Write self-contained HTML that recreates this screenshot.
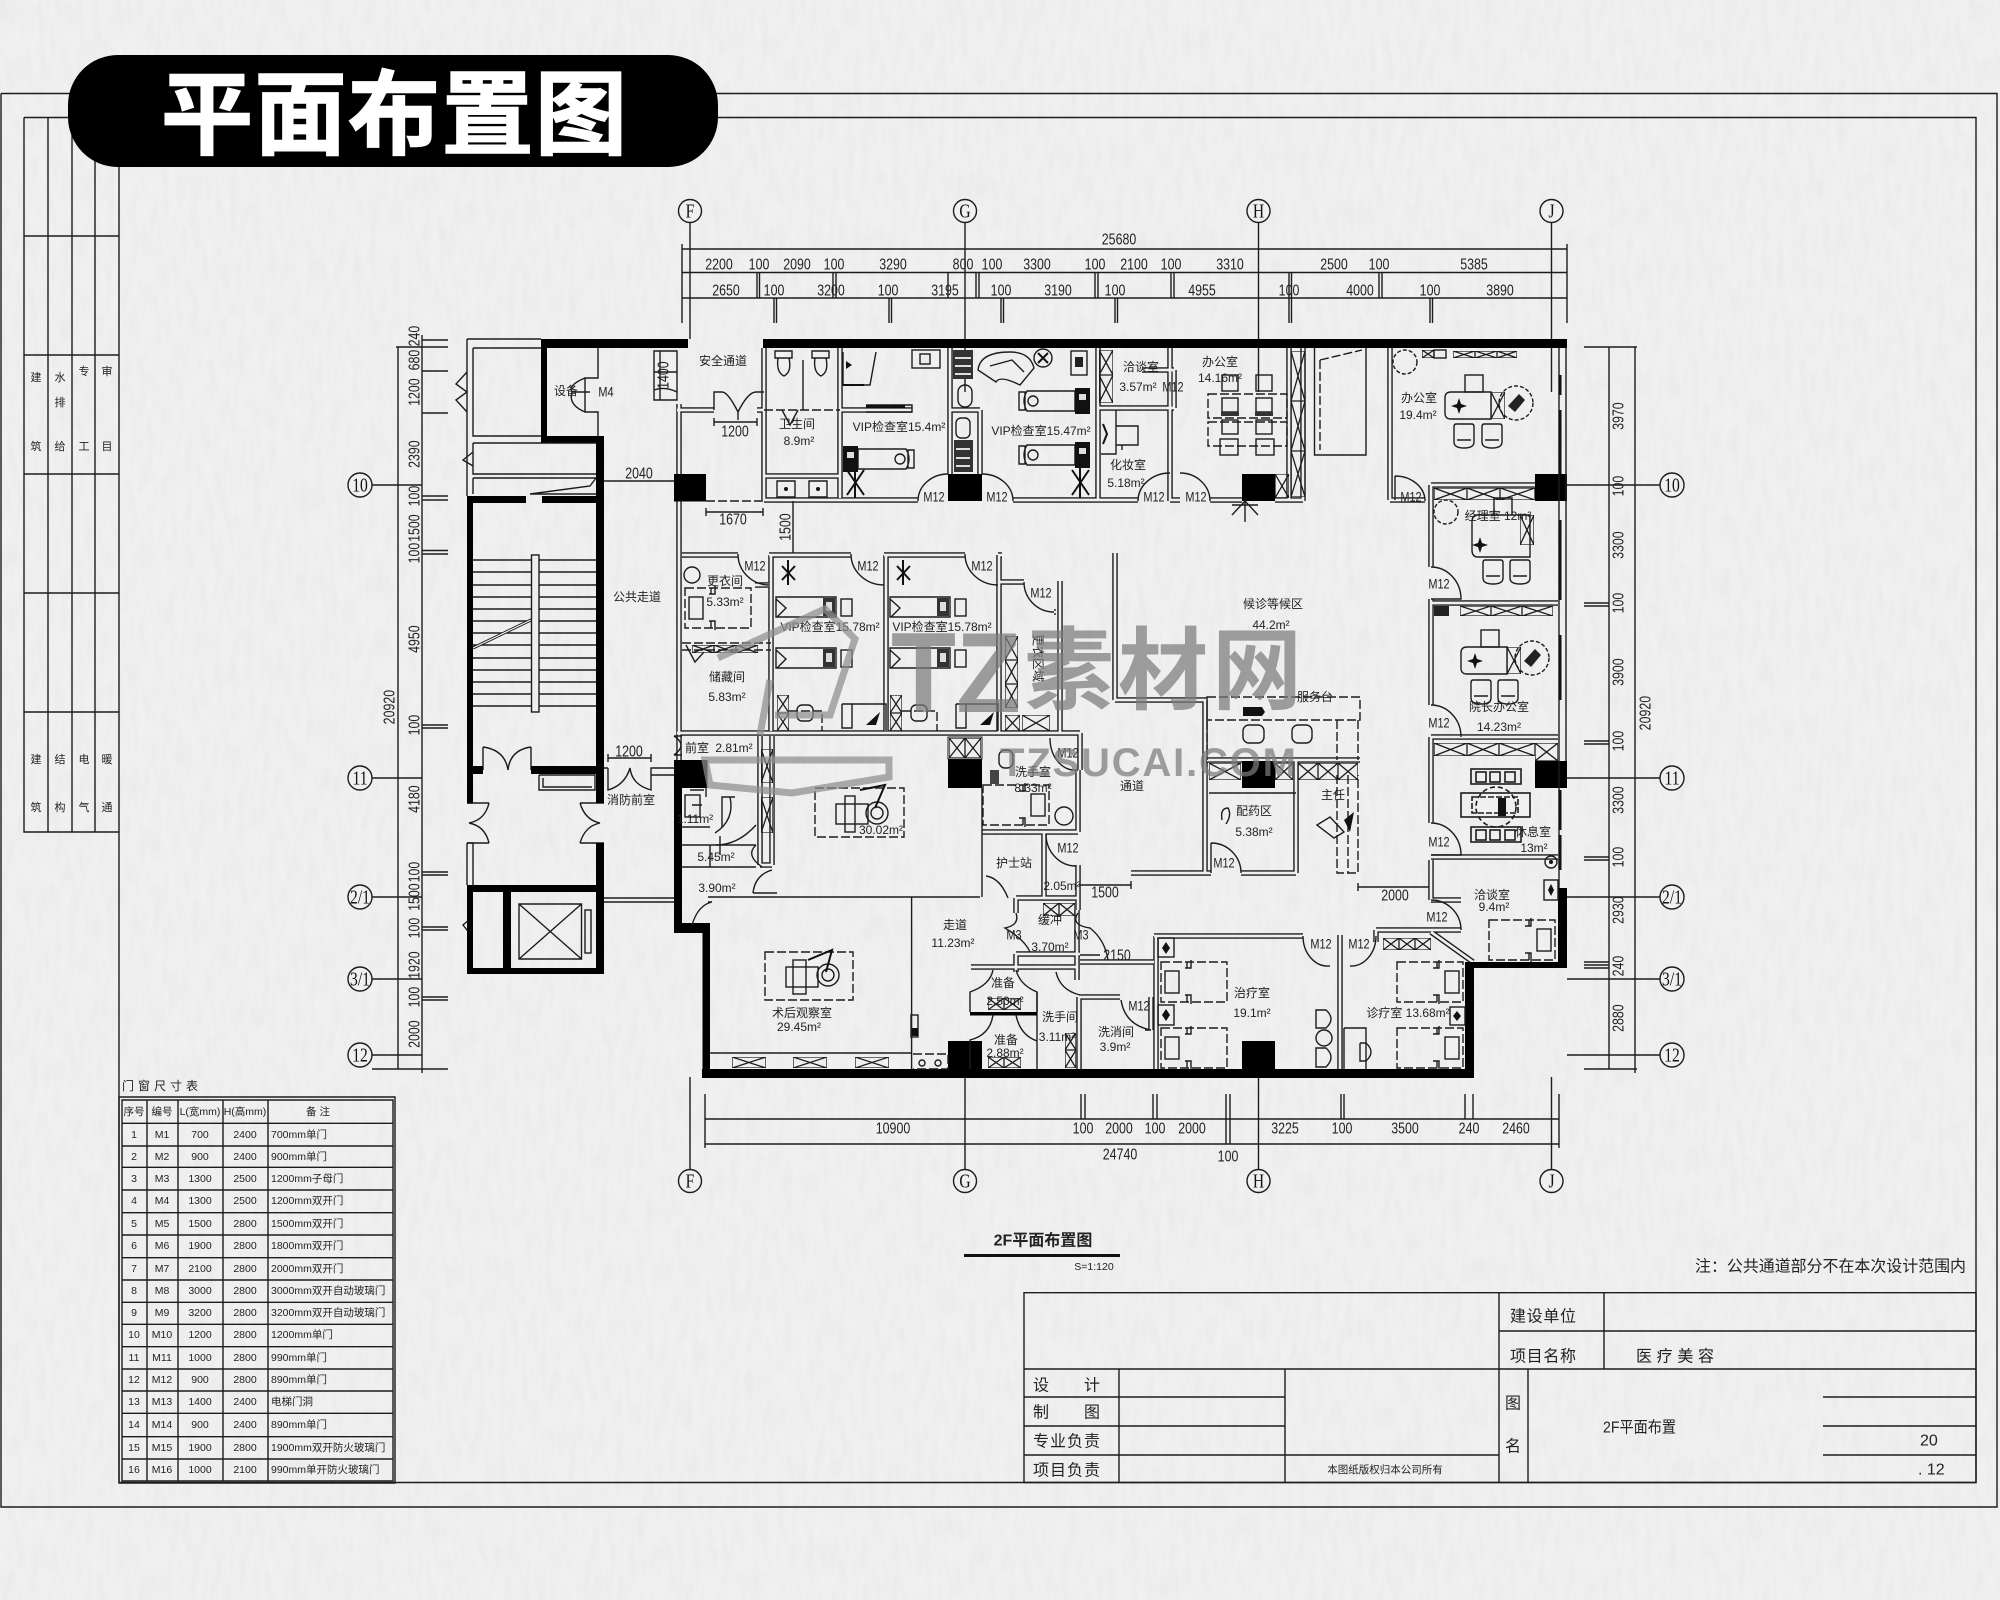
<!DOCTYPE html>
<html lang="zh"><head><meta charset="utf-8"><title>平面布置图</title>
<style>
html,body{margin:0;padding:0;background:#eee;width:2000px;height:1600px;overflow:hidden}
svg{display:block}
.n{font:15.5px "Liberation Sans",sans-serif;text-anchor:middle;dominant-baseline:central;fill:#222}
.n text{transform-box:fill-box;transform-origin:center;transform:scaleX(.8)}
.n text.v{transform:rotate(-90deg) scaleX(.8)}
.c{font:12px "Liberation Sans","Noto Sans CJK SC",sans-serif;text-anchor:middle;dominant-baseline:central;fill:#222}
.m{font:14px "Liberation Sans",sans-serif;text-anchor:middle;dominant-baseline:central;fill:#222}
.m text{transform-box:fill-box;transform-origin:center;transform:scaleX(.78)}
.ax{font:20px "Liberation Serif",serif;text-anchor:middle;dominant-baseline:central;fill:#111}
.ax text{transform-box:fill-box;transform-origin:center;transform:scaleX(.78)}
.tb{font:16px "Liberation Sans","Noto Sans CJK SC",sans-serif;dominant-baseline:central;fill:#222}
.td{font:10.5px "Liberation Sans","Noto Sans CJK SC",sans-serif;text-anchor:middle;dominant-baseline:central;fill:#222}
.l{fill:none;stroke:#1c1c1c;stroke-width:1.4}
.d{fill:none;stroke:#1c1c1c;stroke-width:1.4;stroke-dasharray:9 3}
</style></head><body>
<svg xmlns="http://www.w3.org/2000/svg" width="2000" height="1600" viewBox="0 0 2000 1600">
<defs>
<filter id="paper" x="0" y="0" width="100%" height="100%"><feTurbulence type="fractalNoise" baseFrequency="0.13 0.035" numOctaves="3" seed="5"/><feColorMatrix values="0 0 0 0 .6 0 0 0 0 .6 0 0 0 0 .6 .3 0 0 0 -.11"/></filter>
<symbol id="x" viewBox="0 0 10 10" preserveAspectRatio="none"><path vector-effect="non-scaling-stroke" fill="none" stroke="#1c1c1c" stroke-width="1.3" d="M0 0H10V10H0ZM0 0L10 10M10 0L0 10"/></symbol>
<g id="tr"><path class="l" d="M8 3H56V23H8Q2 13 8 3ZM0 4H6V22H0Z"/><rect x="56" y="0" width="15" height="26" fill="#111"/><rect x="60" y="6" width="7" height="6" fill="#ddd"/><circle cx="14" cy="13" r="5" class="l"/></g>
<g id="tl"><path class="l" d="M15 3H63Q69 13 63 23H15ZM65 4H71V22H65Z"/><rect x="0" y="0" width="15" height="26" fill="#111"/><rect x="4" y="6" width="7" height="6" fill="#ddd"/><circle cx="57" cy="13" r="5" class="l"/></g>
<g id="bd"><path class="l" d="M0 0H60V20H0ZM0 2L10 11L1 20"/><rect x="47" y="1" width="12" height="18" fill="#333"/><rect x="50" y="5" width="6" height="9" fill="#ddd"/><rect x="65" y="2" width="11" height="17" class="l"/></g>
<g id="ch"><path class="l" d="M2 0H18Q20 0 20 3V18Q20 24 10 24Q0 24 0 18V3Q0 0 2 0ZM3 16H17"/></g>
<g id="dk"><path class="l" d="M6 0H46V27H6Q0 27 0 21V6Q0 0 6 0Z"/><use href="#x" x="46" y="0" width="14" height="27"/><rect x="20" y="-17" width="18" height="17" class="l"/><path d="M14 6L16 12L22 14L16 16L14 22L12 16L6 14L12 12Z" fill="#111"/><circle cx="71" cy="11" r="17" class="l" stroke-dasharray="4 2"/><path d="M63 14L74 2L80 8L70 20Z" fill="#222"/></g>
<g id="db"><path class="d" d="M0 0H66V40H0Z"/><rect x="4" y="9" width="14" height="22" class="l"/><path class="l" d="M26 0V6M24 6H30V-2M26 40V33M24 33H30V42"/></g>
<g id="dbr"><path class="d" d="M0 0H66V40H0Z"/><rect x="48" y="9" width="14" height="22" class="l"/><path class="l" d="M40 0V6M36 6H42V-2M40 40V33M36 33H42V42"/></g>
<path id="dw" fill="none" d="
M679 404V474M679 501V760M677 733H1080M677 410H714M757 410H764M764 348V500M840 348V498M764 476H840M840 410H912M950 348V474M980 410V474M950 410H980
M764 500H918M1013 500H1138M1170 501V348M1170 500H1180M1210 500H1242M1098 348V500M1098 408H1174M1174 408V370M1174 370H1142
M1289 348V501M1303 348V501M1275 500H1303M1390 348V500M1425 500H1390
M1431 485V567M1431 599V705M1431 737V823M1431 860V900M1431 485H1535M1431 603H1558M1431 737H1558M1431 857H1558M1376 930H1431M1431 932L1473 962M1461 930H1431M1431 900H1461
M682 555H738M769 555H851M884 555H965M998 555H1002M771 555V731M886 555V731M999 555V733M999 582H1024M1060 581V733M1054 612H1056M769 585H755
M1115 553V700M1115 700H1207M1205 700V873M1131 873H1211M1241 873H1296M1296 760V873M1207 760H1360
M1154 936H1303M1156 936V1069M1340 935V1069M1376 930V942M1154 936H1156
M1079 997V1069M1079 997H1120M1151 997V1030M1080 962H1154
M760 736V865M772 736V865M760 865H772
M1080 733V770M1078 770V832M982 832H1078M1044 833V897M1078 865V910M1016 898H1078M1016 898V913M1016 954H1077M1016 954V972M1077 910V980M1077 954H1080
M971 967H1077"/>
</defs>
<rect width="2000" height="1600" fill="#f0f0f0"/>
<rect width="2000" height="1600" filter="url(#paper)"/>

<!-- drawing frames -->
<path class="l" d="M1 93.5H1997V1507H1V93.5"/>
<path class="l" d="M24 117.5H1976V1482.5H119M119 117.5V1482.5M24 117.5V832H119"/>
<path class="l" d="M48 117.5V832M72 117.5V832M95 117.5V832M24 236H119M24 355H119M24 474H119M24 593H119M24 712H119"/>
<g class="td" style="font-size:11px">
<text x="36" y="378">建</text><text x="36" y="447">筑</text><text x="60" y="378">水</text><text x="60" y="403">排</text><text x="60" y="447">给</text><text x="84" y="372">专</text><text x="84" y="447">工</text><text x="107" y="372">审</text><text x="107" y="447">目</text>
<text x="36" y="760">建</text><text x="36" y="808">筑</text><text x="60" y="760">结</text><text x="60" y="808">构</text><text x="84" y="760">电</text><text x="84" y="808">气</text><text x="107" y="760">暖</text><text x="107" y="808">通</text>
</g>

<!-- dimensions top -->
<path class="l" d="M682 249H1567M682 272.5H1567M682 298H1567M682 244V323M1567 244V323"/>
<path class="l" d="M757 272V298M759.5 272V298M833 272V298M836 272V298M948 272V298M976 272V298M979 272V298M1095 272V298M1098 272V298M1171 272V298M1174 272V298M1379 272V298M1382 272V298"/>
<path class="l" d="M774 298V323M776.500 298V323M889 298V323M891.500 298V323M1001 298V323M1003.5 298V323M1115 298V323M1117.5 298V323M1289 272V323M1291.500 272V323M1430 298V323M1432.500 298V323"/>
<path class="l" d="M690 222V339M965 222V392M1258.5 222V392M1551.500 222V392"/>
<g class="n">
<text x="1119" y="239">25680</text>
<text x="719" y="264">2200</text><text x="759" y="264">100</text><text x="797" y="264">2090</text><text x="834" y="264">100</text><text x="893" y="264">3290</text><text x="963" y="264">800</text><text x="992" y="264">100</text><text x="1037" y="264">3300</text><text x="1095" y="264">100</text><text x="1134" y="264">2100</text><text x="1171" y="264">100</text><text x="1230" y="264">3310</text><text x="1334" y="264">2500</text><text x="1379" y="264">100</text><text x="1474" y="264">5385</text>
<text x="726" y="290">2650</text><text x="774" y="290">100</text><text x="831" y="290">3200</text><text x="888" y="290">100</text><text x="945" y="290">3195</text><text x="1001" y="290">100</text><text x="1058" y="290">3190</text><text x="1115" y="290">100</text><text x="1202" y="290">4955</text><text x="1289" y="290">100</text><text x="1360" y="290">4000</text><text x="1430" y="290">100</text><text x="1500" y="290">3890</text>
</g>

<!-- dimensions left -->
<path class="l" d="M398 347V1069M422 335V1073M372 1069H448M396 347H448M422 340H448M422 371H448M422 413H448M422 496H448M422 500H448M422 550.500H448M422 554H448M422 725H448M422 728H448M422 872H448M422 875H448M422 927H448M422 930H448M422 997H448M422 1000H448"/>
<path class="l" d="M372 485H422M372 778H422M372 897H422M372 979H422M372 1055H422"/>
<g class="n">
<text class="v" x="414" y="336">240</text><text class="v" x="414" y="360">680</text><text class="v" x="414" y="392">1200</text><text class="v" x="414" y="454">2390</text><text class="v" x="414" y="496">100</text><text class="v" x="414" y="528">1500</text><text class="v" x="414" y="553">100</text><text class="v" x="414" y="639">4950</text><text class="v" x="414" y="725">100</text><text class="v" x="414" y="799">4180</text><text class="v" x="414" y="872">100</text><text class="v" x="414" y="897">1500</text><text class="v" x="414" y="928">100</text><text class="v" x="414" y="965">1920</text><text class="v" x="414" y="997">100</text><text class="v" x="414" y="1034">2000</text>
<text class="v" x="389" y="707">20920</text>
</g>

<!-- dimensions right -->
<path class="l" d="M1609 347V1069M1635 347V1073M1584 347H1637M1584 1069H1637M1584 603H1609M1584 606H1609M1584 741H1609M1584 744H1609M1584 857H1609M1584 860H1609M1584 962H1609M1584 965H1609M1584 968H1609"/>
<path class="l" d="M1567 485H1660M1567 778H1660M1567 897H1660M1567 979H1660M1567 1055H1660"/>
<g class="n">
<text class="v" x="1618" y="416">3970</text><text class="v" x="1618" y="486">100</text><text class="v" x="1618" y="545">3300</text><text class="v" x="1618" y="603">100</text><text class="v" x="1618" y="672">3900</text><text class="v" x="1618" y="741">100</text><text class="v" x="1618" y="800">3300</text><text class="v" x="1618" y="857">100</text><text class="v" x="1618" y="910">2930</text><text class="v" x="1618" y="966">240</text><text class="v" x="1618" y="1018">2880</text>
<text class="v" x="1645" y="713">20920</text>
</g>

<!-- dimensions bottom -->
<path class="l" d="M705 1119H1559M705 1144H1559M705 1094V1148M1559 1094V1148"/>
<path class="l" d="M1081 1094V1119M1085 1094V1119M1153 1094V1119M1157 1094V1119M1226 1094V1144M1230 1094V1144M1341 1094V1119M1344 1094V1119M1465 1094V1119M1473 1094V1119"/>
<path class="l" d="M690 1077V1170M965 1078V1170M1258.5 1078V1170M1551.500 1077V1170"/>
<g class="n">
<text x="893" y="1128">10900</text><text x="1083" y="1128">100</text><text x="1119" y="1128">2000</text><text x="1155" y="1128">100</text><text x="1192" y="1128">2000</text><text x="1285" y="1128">3225</text><text x="1342" y="1128">100</text><text x="1405" y="1128">3500</text><text x="1469" y="1128">240</text><text x="1516" y="1128">2460</text>
<text x="1120" y="1154">24740</text><text x="1228" y="1156">100</text>
</g>

<!-- axis bubbles -->
<g fill="#f0f0f0" stroke="#1c1c1c" stroke-width="1.4">
<circle cx="690" cy="211" r="11.5"/><circle cx="965" cy="211" r="11.5"/><circle cx="1258.500" cy="211" r="11.5"/><circle cx="1551.500" cy="211" r="11.5"/>
<circle cx="690" cy="1181" r="11.5"/><circle cx="965" cy="1181" r="11.5"/><circle cx="1258.500" cy="1181" r="11.5"/><circle cx="1551.500" cy="1181" r="11.5"/>
<circle cx="360" cy="485" r="12"/><circle cx="360" cy="778" r="12"/><circle cx="360" cy="897" r="12"/><circle cx="360" cy="979" r="12"/><circle cx="360" cy="1055" r="12"/>
<circle cx="1672" cy="485" r="12"/><circle cx="1672" cy="778" r="12"/><circle cx="1672" cy="897" r="12"/><circle cx="1672" cy="979" r="12"/><circle cx="1672" cy="1055" r="12"/>
</g>
<g class="ax">
<text x="690" y="211">F</text><text x="965" y="211">G</text><text x="1258.500" y="211">H</text><text x="1551.500" y="211">J</text>
<text x="690" y="1181">F</text><text x="965" y="1181">G</text><text x="1258.500" y="1181">H</text><text x="1551.500" y="1181">J</text>
<text x="360" y="485">10</text><text x="360" y="778">11</text><text x="360" y="897">2/1</text><text x="360" y="979">3/1</text><text x="360" y="1055">12</text>
<text x="1672" y="485">10</text><text x="1672" y="778">11</text><text x="1672" y="897">2/1</text><text x="1672" y="979">3/1</text><text x="1672" y="1055">12</text>
</g>

<!-- thin structure around stair -->
<path class="l" d="M467 339H541M467 339V496M473 348H541M473 348V436H541M473 443H596M473 443V474H596M473 478H596M473 478V494M530 494H596M530 494L590 486L596 478"/>
<path class="l" d="M467 843V885M473 843V885M467 803H473M467 843H473"/>
<path d="M467 372L456 384L467 392L456 400L467 412M473 452L463 460L473 466" class="l"/>
<path class="l" d="M463 925L471 918V935Z"/>

<!-- stairs -->
<path class="l" d="M473 560H596M473 572H596M473 585H596M473 597H596M473 609H596M473 621H596M473 633H596M473 645H596M473 658H596M473 670H596M473 682H596M473 694H596M473 706H596"/>
<path d="M473 648L533 619" stroke="#1c1c1c" stroke-width="3" fill="none"/>
<path d="M473 648L533 619" stroke="#eee" stroke-width="1.2" fill="none"/>
<rect x="531.500" y="555" width="7.5" height="157" fill="#eee" stroke="#1c1c1c" stroke-width="1.4"/>
<path class="l" d="M483 747V770M531 747V770M483 747Q505 750 508 770M531 747Q510 750 508 770"/>
<path class="l" d="M489 803Q485 820 469 823Q485 826 489 843M467 843H489M467 803H489"/>
<path class="l" d="M580 803Q585 820 600 823Q585 826 580 843M580 843H604M580 803H604"/>
<path class="l" d="M539 775V790H595V775H539M543 778V787H592"/>
<path class="l" d="M608 768V790Q625 785 630 768Q632 785 651 790V768H674M651 775H674M604 768H608"/>
<path class="l" d="M608 758H651M608 754V762M651 754V762"/>
<path class="l" d="M604 898H674M604 902H674M604 481H674"/>
<!-- elevator -->
<path class="l" d="M519 904H581.500V959H519ZM519 904L581.500 959M581.500 904L519 959"/>
<rect x="585" y="910" width="6" height="43" class="l"/>

<!-- main thin (double) walls -->
<use href="#dw" stroke="#1c1c1c" stroke-width="5.5"/>
<use href="#dw" stroke="#efefef" stroke-width="2.7"/>
<path class="l" d="M708 897H980M911.600 897V1069M710 1053H912M982 788V897M1209 793H1296M1314.500 348V455H1366V348"/>
<path class="l" d="M1037 992V1069"/>
<path class="l" d="M682 787H707M682 827H710M722 827V797H735M682 845H756M682 867H756M710 845V867M720 836V855"/>
<path class="d" d="M706 501H764M764 410H840M682 643H771"/>

<!-- thick black walls -->
<g fill="#000">
<rect x="541" y="339" width="147" height="9"/>
<rect x="763" y="339" width="804" height="9"/>
<rect x="541" y="339" width="6" height="103"/>
<rect x="541" y="436" width="63" height="6.500"/>
<rect x="596" y="436" width="8" height="367"/>
<rect x="596" y="843" width="8" height="131"/>
<rect x="467" y="496" width="6" height="307"/>
<rect x="467" y="885" width="6" height="89"/>
<path d="M467 496H526V503H467ZM542 496H604V503H542Z"/>
<rect x="467" y="766" width="16" height="8"/>
<rect x="531" y="766" width="73" height="8"/>
<rect x="467" y="885" width="137" height="7"/>
<rect x="467" y="968" width="137" height="6"/>
<rect x="503" y="892" width="8" height="76"/>
<rect x="674" y="474" width="32" height="27.500"/>
<rect x="948" y="474" width="34" height="27"/>
<rect x="1242" y="474" width="33" height="27"/>
<rect x="1535" y="474" width="32" height="27"/>
<rect x="674" y="760" width="33.500" height="28"/>
<rect x="674" y="788" width="8" height="135"/>
<rect x="674" y="923" width="35" height="10"/>
<rect x="702.500" y="923" width="7.500" height="150"/>
<rect x="702" y="1069" width="772" height="9"/>
<rect x="1465" y="962" width="9" height="116"/>
<rect x="1465" y="962" width="102" height="6"/>
<rect x="1558" y="888" width="9" height="80"/>
<rect x="948" y="758" width="34" height="30"/>
<rect x="948" y="1041" width="34" height="28"/>
<rect x="1242" y="1041" width="33" height="28"/>
<rect x="1242" y="761" width="33" height="27"/>
<rect x="1535" y="761" width="32" height="27"/>
<rect x="970" y="1012" width="67" height="3.500"/>
</g>
<!-- window strip on the east side -->
<path class="l" d="M1559 348V888M1566 348V761"/>
<path stroke="#111" stroke-width="3" fill="none" d="M1560 375V395M1560 410V474M1560 520V600M1560 635V700M1560 790V830M1560 835V870"/>

<!-- north-west small items -->
<path class="l" d="M598 348V378H585V412H598V436M585 378Q568 385 572 392Q568 405 585 412M572 392L590 392M585 387V397"/>
<path class="l" d="M654 351H677V400H654ZM660 351V400M654 372H677M654 390Q665 386 677 392"/>
<path class="l" d="M714 410V392H722Q728 392 738 412Q748 392 756 392H764M738 412V420M714 422H757M714 418V426M757 418V426"/>
<path class="l" d="M706 512H763M706 508V516M763 508V516M793 501V553"/>
<!-- toilets/wash room -->
<path class="l" d="M775 351H792V358H775ZM778 358Q776 372 784 376Q792 372 789 358ZM812 351H829V358H812ZM815 358Q813 372 821 376Q829 372 826 358ZM803 360V410M782 410L790 425L798 410"/>
<path class="l" d="M777 481H795V497H777ZM809 481H827V497H809Z"/>
<circle cx="786" cy="489" r="2" fill="#111"/><circle cx="818" cy="489" r="2" fill="#111"/>
<path class="l" d="M843 352V385H870L876 352M843 385H860M866 405H912V412H866"/>
<path d="M843 384H864V386H843ZM846 361L852 365L846 369ZM866 405H905V408H866Z" fill="#111"/>
<rect x="912" y="350" width="28" height="18" class="l"/><rect x="920" y="354" width="10" height="10" class="l"/>
<rect x="953" y="350" width="20" height="29" fill="#333"/><path d="M955 358H971M955 366H971M955 374H971" stroke="#ddd" stroke-width="2"/>
<rect x="954" y="440" width="19" height="32" fill="#333"/><path d="M956 449H970M956 458H970M956 466H970" stroke="#ddd" stroke-width="2"/>
<rect x="958" y="385" width="14" height="22" rx="7" class="l"/><rect x="956" y="418" width="14" height="20" rx="5" class="l"/>
<path class="l" d="M978 370Q980 352 1010 352Q1030 352 1034 368L1020 385Q1000 375 996 382ZM990 366L1012 360L1024 372"/>
<circle cx="1043" cy="358" r="9" class="l"/><path d="M1038 353L1048 363M1048 353L1038 363" stroke="#111" stroke-width="2"/>
<rect x="1071" y="351" width="16" height="24" class="l"/><rect x="1075" y="357" width="8" height="10" fill="#222"/>
<use href="#tr" x="1019" y="388"/><use href="#tr" x="1019" y="442"/><use href="#tl" x="843" y="446"/>
<path d="M847 470L864 495M864 470L847 495M855 468V498" stroke="#111" stroke-width="2" fill="none"/>
<path d="M1072 470L1089 495M1089 470L1072 495M1080 468V498" stroke="#111" stroke-width="2" fill="none"/>
<use href="#x" x="1099" y="350" width="14" height="25"/><use href="#x" x="1099" y="375" width="14" height="28"/>
<path class="l" d="M1101 454H1116V410M1116 445V426H1138V445H1116M1122 445V450"/>
<path d="M1103 424L1107 434L1103 444" stroke="#111" fill="none" stroke-width="2"/>

<!-- doors -->
<path class="l" d="M918 501A30 27 0 0 1 948 474M982 474A31 27 0 0 1 1013 501M1138 501A32 28 0 0 1 1170 473M1180 473A30 28 0 0 1 1210 501M1395 476A30 25 0 0 1 1425 501M1395 476V500"/>
<path class="l" d="M1431 567A30 32 0 0 1 1461 599H1431M1431 705A30 32 0 0 1 1461 737M1431 823A30 32 0 0 1 1461 855H1431M1431 900A30 30 0 0 1 1461 930"/>
<path class="l" d="M738 554A31 31 0 0 0 769 585M851 554A33 31 0 0 0 884 585M965 554A33 31 0 0 0 998 585M1024 582A30 30 0 0 0 1054 612"/>
<path class="l" d="M1211 843A30 30 0 0 1 1241 873M1211 843V873M1303 936A25 30 0 0 0 1330 966M1376 936A25 30 0 0 1 1350 966"/>
<path class="l" d="M1050 738A25 32 0 0 0 1078 770M1046 834A30 32 0 0 0 1076 866"/>
<path class="l" d="M753 893Q755 875 772 870M777 893H753M692 925Q698 905 712 902H708"/>
<path class="l" d="M986 876Q1000 878 1008 898M1016 913Q1020 925 1005 928Q1025 940 1030 952M1078 913Q1070 925 1090 928Q1105 940 1108 960"/>
<path class="l" d="M716 845Q738 845 756 825M762 867Q745 855 756 845M706 787V797M730 797Q735 820 715 833"/>
<path class="l" d="M1056 972Q1060 990 1080 995M1121 1000Q1125 1025 1151 1030H1145"/>
<path class="l" d="M993 970Q990 985 970 992V1012M1016 970Q1020 985 1037 992V1012M993 1015Q990 1035 970 1040V1069M1016 1015Q1020 1035 1037 1041"/>
<path class="l" d="M674 736Q688 745 674 755M674 736H682M674 755H682"/>

<!-- middle rooms furniture -->
<circle cx="692" cy="575" r="8" class="l"/>
<use href="#db" x="685" y="588"/>
<use href="#bd" x="776" y="597"/><use href="#bd" x="776" y="648"/><use href="#bd" x="890" y="597"/><use href="#bd" x="890" y="648"/>
<path class="d" d="M682 650H771"/>
<path class="l" d="M686 645L695 662L704 652"/>
<use href="#x" x="692" y="645" width="22" height="8"/><use href="#x" x="714" y="645" width="22" height="8"/><use href="#x" x="736" y="645" width="22" height="8"/>
<use href="#x" x="777" y="695" width="12" height="18"/><use href="#x" x="777" y="713" width="12" height="18"/><use href="#x" x="890" y="695" width="12" height="18"/><use href="#x" x="890" y="713" width="12" height="18"/>
<rect x="797" y="705" width="16" height="16" rx="5" class="l"/><rect x="911" y="705" width="16" height="16" rx="5" class="l"/>
<path class="d" d="M789 711H822V731M902 711H937V731"/>
<path class="l" d="M842 704H886V731M842 704V728H852V704M956 704H998V731M956 704V728H966V704"/>
<path d="M866 725L880 712L876 725ZM980 725L994 712L990 725Z" fill="#111"/>
<path d="M782 566L795 580M795 566L782 580M788 560V585M897 566L910 580M910 566L897 580M903 560V585" stroke="#111" stroke-width="2" fill="none"/>
<use href="#x" x="1005" y="636" width="13" height="24"/><use href="#x" x="1005" y="660" width="13" height="24"/><use href="#x" x="1005" y="684" width="13" height="24"/>
<use href="#x" x="1005" y="715" width="15" height="16"/><use href="#x" x="1022" y="715" width="28" height="16"/>
<!-- treatment room strip -->
<use href="#x" x="761" y="749" width="12" height="34"/><use href="#x" x="761" y="797" width="12" height="36"/>
<rect x="948" y="737" width="34" height="22" fill="#eee" stroke="#1c1c1c"/>
<use href="#x" x="949" y="738" width="16" height="20"/><use href="#x" x="965" y="738" width="16" height="20"/>
<path class="d" d="M815 788H904V837H815Z"/>
<rect x="836" y="804" width="32" height="20" class="l"/><rect x="845" y="796" width="10" height="36" class="l"/>
<circle cx="877" cy="813" r="11" class="l"/><circle cx="877" cy="813" r="6" class="l"/><path d="M860 790L885 785L875 808" stroke="#111" stroke-width="2" fill="none"/>
<path class="d" d="M765 952H853V1000H765Z"/>
<rect x="786" y="967" width="32" height="20" class="l"/><rect x="793" y="960" width="13" height="34" class="l"/>
<circle cx="828" cy="975" r="11" class="l"/><circle cx="828" cy="975" r="6" class="l"/><path d="M808 960L832 950L826 972" stroke="#111" stroke-width="2" fill="none"/>
<use href="#x" x="732" y="1057" width="34" height="11"/><use href="#x" x="793" y="1057" width="34" height="11"/><use href="#x" x="855" y="1057" width="34" height="11"/>
<rect x="911" y="1015" width="7" height="22" class="l"/><rect x="912" y="1028" width="6" height="8" fill="#111"/>
<path class="d" d="M913 1054H948V1069H913"/>
<circle cx="922" cy="1063" r="3" class="l"/><circle cx="938" cy="1063" r="3" class="l"/>
<use href="#x" x="988" y="998" width="16" height="12"/><use href="#x" x="1004" y="998" width="17" height="12"/><use href="#x" x="988" y="1057" width="16" height="11"/><use href="#x" x="1004" y="1057" width="17" height="11"/>
<use href="#x" x="1065" y="1033" width="11" height="17"/><use href="#x" x="1065" y="1050" width="11" height="18"/>
<use href="#x" x="1043" y="903" width="16" height="13"/><use href="#x" x="1059" y="903" width="16" height="13"/>
<!-- lower left small rooms -->
<rect x="685" y="795" width="15" height="22" class="l"/><path class="l" d="M690 790H704M692 805H702"/>
<!-- wash room -->
<use href="#dbr" x="983" y="785"/>
<circle cx="1064" cy="816" r="9" class="l"/>
<rect x="999" y="750" width="14" height="18" rx="6" class="l"/><rect x="990" y="770" width="9" height="14" fill="#444"/>

<!-- office areas -->
<path class="d" d="M1207 697H1360V720H1207ZM1207 697V760M1337 720V760M1358 720V760M1337 775V873H1358V775M1348 775V873"/>
<path d="M1243 707H1262L1265 712L1262 716H1243Z" fill="#111"/>
<rect x="1243" y="725" width="21" height="18" rx="6" class="l"/><rect x="1292" y="725" width="20" height="18" rx="6" class="l"/>
<use href="#x" x="1209" y="763" width="32" height="17"/><use href="#x" x="1275" y="763" width="18" height="17"/><use href="#x" x="1298" y="763" width="20" height="17"/><use href="#x" x="1318" y="763" width="20" height="17"/><use href="#x" x="1338" y="763" width="20" height="17"/>
<path class="l" d="M1222 820Q1220 808 1228 808Q1232 815 1226 824"/>
<path class="l" d="M1317 825L1330 817L1344 832L1334 838Z"/><path d="M1344 820L1354 812L1350 832Z" fill="#111"/>
<!-- office 14.16 -->
<path class="d" d="M1208 394H1287V418H1208ZM1208 422H1287V446H1208Z"/>
<g fill="none" stroke="#1c1c1c" stroke-width="1.4">
<rect x="1222" y="375" width="16" height="16"/><rect x="1256" y="375" width="16" height="16"/><rect x="1222" y="398" width="16" height="14"/><rect x="1256" y="398" width="16" height="14"/><rect x="1222" y="420" width="16" height="14"/><rect x="1256" y="420" width="16" height="14"/><rect x="1220" y="439" width="18" height="16"/><rect x="1256" y="439" width="18" height="16"/>
</g>
<rect x="1221" y="412" width="18" height="4" fill="#333"/><rect x="1255" y="412" width="18" height="4" fill="#333"/>
<use href="#x" x="1291" y="351" width="14" height="50"/><use href="#x" x="1291" y="401" width="14" height="50"/><use href="#x" x="1291" y="451" width="14" height="46"/>
<use href="#x" x="1275" y="474" width="14" height="24"/>
<path class="l" d="M1232 505H1258M1245 501V522M1245 501L1232 515M1245 501L1258 515"/>
<path class="d" d="M1320 360L1362 350M1320 360V450"/>
<!-- offices east -->
<circle cx="1405" cy="362" r="12" class="l" stroke-dasharray="4 2"/>
<use href="#x" x="1422" y="350" width="12" height="8"/><rect x="1434" y="350" width="12" height="8" class="l"/><use href="#x" x="1453" y="351" width="22" height="7"/><use href="#x" x="1475" y="351" width="22" height="7"/><use href="#x" x="1497" y="351" width="20" height="7"/>
<use href="#dk" x="1445" y="392"/>
<use href="#ch" x="1454" y="424"/><use href="#ch" x="1482" y="424"/>
<use href="#x" x="1434" y="488" width="33" height="12"/><use href="#x" x="1467" y="488" width="33" height="12"/><use href="#x" x="1500" y="488" width="35" height="12"/>
<circle cx="1446" cy="512" r="12" class="l" stroke-dasharray="4 2"/>
<path class="l" d="M1478 515H1530V557H1478Q1472 557 1472 550V522Q1472 515 1478 515ZM1494 515V498H1512V515"/>
<use href="#x" x="1520" y="515" width="14" height="30"/>
<path d="M1480 537L1482 543L1488 545L1482 547L1480 553L1478 547L1472 545L1478 543Z" fill="#111"/>
<use href="#ch" x="1483" y="560"/><use href="#ch" x="1510" y="560"/>
<use href="#x" x="1460" y="606" width="31" height="10"/><use href="#x" x="1491" y="606" width="31" height="10"/><use href="#x" x="1522" y="606" width="31" height="10"/>
<rect x="1434" y="606" width="15" height="10" fill="#222"/>
<use href="#dk" x="1461" y="647"/>
<use href="#ch" x="1471" y="680"/><use href="#ch" x="1498" y="680"/>
<use href="#x" x="1434" y="743" width="33" height="13"/><use href="#x" x="1467" y="743" width="32" height="13"/><use href="#x" x="1499" y="743" width="36" height="13"/><use href="#x" x="1535" y="743" width="23" height="18"/>
<!-- meeting -->
<g fill="none" stroke="#1c1c1c" stroke-width="1.6">
<rect x="1471" y="769" width="50" height="15"/><rect x="1476" y="772" width="10" height="10"/><rect x="1490" y="772" width="10" height="10"/><rect x="1505" y="772" width="10" height="10"/>
<rect x="1461" y="793" width="69" height="24"/><rect x="1472" y="797" width="46" height="16" stroke-dasharray="6 2"/>
<rect x="1471" y="827" width="50" height="15"/><rect x="1476" y="830" width="10" height="10"/><rect x="1490" y="830" width="10" height="10"/><rect x="1505" y="830" width="10" height="10"/>
<circle cx="1496" cy="807" r="20" stroke-dasharray="5 3"/></g>
<rect x="1498" y="798" width="8" height="18" fill="#111"/>
<circle cx="1551" cy="862" r="6" class="l"/><circle cx="1551" cy="862" r="2" fill="#111"/>
<rect x="1544" y="880" width="14" height="20" class="l"/><path d="M1551 884L1554 890L1551 896L1548 890Z" fill="#111"/>
<use href="#dbr" x="1489" y="920"/>
<!-- south rooms -->
<use href="#db" x="1161" y="962"/><use href="#db" x="1161" y="1028"/><use href="#dbr" x="1397" y="962"/><use href="#dbr" x="1397" y="1028"/>
<rect x="1158" y="938" width="16" height="19" class="l"/><path d="M1166 942L1170 948L1166 954L1162 948Z" fill="#111"/><rect x="1158" y="1005" width="16" height="20" class="l"/><path d="M1166 1009L1170 1015L1166 1021L1162 1015Z" fill="#111"/><rect x="1450" y="1007" width="15" height="18" class="l"/><path d="M1457 1011L1461 1016L1457 1021L1453 1016Z" fill="#111"/>
<path class="l" d="M1316 1010H1326Q1336 1019 1326 1028H1316ZM1316 1048H1326Q1336 1057 1326 1067H1316Z"/><circle cx="1324" cy="1038" r="8" class="l"/>
<path class="l" d="M1344 1028H1366V1069M1344 1028V1069"/><path class="l" d="M1360 1043H1366Q1376 1052 1366 1061H1360V1043"/>
<use href="#x" x="1383" y="938" width="16" height="12"/><use href="#x" x="1399" y="938" width="16" height="12"/><use href="#x" x="1415" y="938" width="16" height="12"/>

<!-- room labels -->
<g class="c">
<text x="566" y="391">设备</text><text x="723" y="361">安全通道</text><text x="637" y="597">公共走道</text>
<text x="797" y="424">卫生间</text><text x="799" y="441">8.9m²</text>
<text x="899" y="427">VIP检查室15.4m²</text><text x="1041" y="431">VIP检查室15.47m²</text>
<text x="1141" y="367">洽谈室</text><text x="1138" y="387">3.57m²</text>
<text x="1220" y="362">办公室</text><text x="1220" y="378">14.16m²</text>
<text x="1128" y="465">化妆室</text><text x="1126" y="483">5.18m²</text>
<text x="1419" y="398">办公室</text><text x="1418" y="415">19.4m²</text>
<text x="1498" y="516">经理室 12m²</text><text x="1499" y="707">院长办公室</text><text x="1499" y="727">14.23m²</text>
<text x="1533" y="832">休息室</text><text x="1534" y="848">13m²</text>
<text x="1492" y="895">洽谈室</text><text x="1494" y="907">9.4m²</text>
<text x="1252" y="993">治疗室</text><text x="1252" y="1013">19.1m²</text><text x="1408" y="1013">诊疗室 13.68m²</text>
<text x="1273" y="604">候诊等候区</text><text x="1271" y="625">44.2m²</text>
<text x="725" y="581">更衣间</text><text x="725" y="602">5.33m²</text><text x="727" y="677">储藏间</text><text x="727" y="697">5.83m²</text>
<text x="830" y="627">VIP检查室15.78m²</text><text x="942" y="627">VIP检查室15.78m²</text>
<text x="1132" y="786">通道</text><text x="1254" y="811">配药区</text><text x="1254" y="832">5.38m²</text><text x="1333" y="795">主任</text>
<text x="1315" y="697">服务台</text>
<text x="734" y="748">2.81m²</text><text x="695" y="819">1.11m²</text><text x="716" y="857">5.45m²</text><text x="717" y="888">3.90m²</text>
<text x="881" y="830">30.02m²</text><text x="802" y="1013">术后观察室</text><text x="799" y="1027">29.45m²</text>
<text x="955" y="925">走道</text><text x="953" y="943">11.23m²</text><text x="1062" y="886">2.05m²</text><text x="1033" y="772">洗手室</text><text x="1033" y="788">8.33m²</text><text x="1014" y="863">护士站</text><text x="1050" y="947">3.70m²</text><text x="1050" y="920">缓冲</text>
<text x="1003" y="983">准备</text><text x="1005" y="1001">2.50m²</text><text x="1006" y="1040">准备</text><text x="1005" y="1053">2.88m²</text>
<text x="1060" y="1017">洗手间</text><text x="1057" y="1037">3.11m²</text><text x="1116" y="1032">洗消间</text><text x="1115" y="1047">3.9m²</text>
<text x="697" y="748">前室</text><text x="1038" y="658" transform="rotate(90 1038 658)">更衣区域</text><text x="631" y="800">消防前室</text>
</g>
<g class="m">
<text x="934" y="497">M12</text><text x="997" y="497">M12</text><text x="1154" y="497">M12</text><text x="1196" y="497">M12</text><text x="1411" y="497">M12</text><text x="1173" y="387">M12</text>
<text x="755" y="566">M12</text><text x="868" y="566">M12</text><text x="982" y="566">M12</text><text x="1041" y="593">M12</text>
<text x="1439" y="584">M12</text><text x="1439" y="723">M12</text><text x="1439" y="842">M12</text><text x="1437" y="917">M12</text>
<text x="1068" y="753">M12</text><text x="1068" y="848">M12</text><text x="1224" y="863">M12</text><text x="1321" y="944">M12</text><text x="1359" y="944">M12</text><text x="1139" y="1006">M12</text>
<text x="1014" y="935">M3</text><text x="1081" y="935">M3</text><text x="606" y="392">M4</text>
</g>
<g class="n">
<text x="639" y="473">2040</text><text x="735" y="431">1200</text><text x="733" y="519">1670</text><text class="v" x="785" y="527">1500</text><text class="v" x="663" y="375">1400</text><text x="629" y="751">1200</text>
<text x="1105" y="892">1500</text><text x="1117" y="955">2150</text><text x="1395" y="895">2000</text>
</g>
<path class="l" d="M1079 885H1131M1131 881V889M1358 887H1429M1358 883V891M1080 955H1100"/>

<!-- watermark -->
<g fill="none" stroke="#8d8d8d" stroke-opacity=".72" stroke-width="7">
<path d="M718 658L825 609L855 639L830 715H775M760 735L770 680M705 760H889V777L792 793L710 785Z"/>
</g>
<g font-family="'Liberation Sans','Noto Sans CJK SC',sans-serif" font-weight="700" fill="#7c7c7c" fill-opacity=".72">
<text x="891" y="712" font-size="114" textLength="130" lengthAdjust="spacingAndGlyphs">TZ</text>
<text x="1024" y="702" font-size="90" textLength="278">素材网</text>
<text x="1000" y="776" font-size="40" textLength="296">TZSUCAI.COM</text>
</g>

<!-- door table -->
<path class="l" d="M119 1097H395V1483H119ZM122 1100H393V1481H122ZM147 1100V1481M178 1100V1481M223 1100V1481M268 1100V1481"/>
<path class="l" d="M122 1123.300H393M122 1146H393M122 1167.300H393M122 1190H393M122 1212.700H393M122 1235H393M122 1257.700H393M122 1280H393M122 1302.300H393M122 1324.300H393M122 1346.700H393M122 1369H393M122 1391H393M122 1413.300H393M122 1436.700H393M122 1459H393"/>
<text x="122" y="1086" style="font:12px 'Liberation Sans','Noto Sans CJK SC',sans-serif;fill:#222;dominant-baseline:central;letter-spacing:4px">门窗尺寸表</text>
<g class="td">
<text x="134" y="1112">序号</text><text x="162" y="1112">编号</text><text x="200" y="1112">L(宽mm)</text><text x="245" y="1112">H(高mm)</text><text x="318" y="1112">备 注</text>
<text x="134" y="1135">1</text><text x="162" y="1135">M1</text><text x="200" y="1135">700</text><text x="245" y="1135">2400</text>
<text x="134" y="1157">2</text><text x="162" y="1157">M2</text><text x="200" y="1157">900</text><text x="245" y="1157">2400</text>
<text x="134" y="1179">3</text><text x="162" y="1179">M3</text><text x="200" y="1179">1300</text><text x="245" y="1179">2500</text>
<text x="134" y="1201">4</text><text x="162" y="1201">M4</text><text x="200" y="1201">1300</text><text x="245" y="1201">2500</text>
<text x="134" y="1224">5</text><text x="162" y="1224">M5</text><text x="200" y="1224">1500</text><text x="245" y="1224">2800</text>
<text x="134" y="1246">6</text><text x="162" y="1246">M6</text><text x="200" y="1246">1900</text><text x="245" y="1246">2800</text>
<text x="134" y="1269">7</text><text x="162" y="1269">M7</text><text x="200" y="1269">2100</text><text x="245" y="1269">2800</text>
<text x="134" y="1291">8</text><text x="162" y="1291">M8</text><text x="200" y="1291">3000</text><text x="245" y="1291">2800</text>
<text x="134" y="1313">9</text><text x="162" y="1313">M9</text><text x="200" y="1313">3200</text><text x="245" y="1313">2800</text>
<text x="134" y="1335">10</text><text x="162" y="1335">M10</text><text x="200" y="1335">1200</text><text x="245" y="1335">2800</text>
<text x="134" y="1358">11</text><text x="162" y="1358">M11</text><text x="200" y="1358">1000</text><text x="245" y="1358">2800</text>
<text x="134" y="1380">12</text><text x="162" y="1380">M12</text><text x="200" y="1380">900</text><text x="245" y="1380">2800</text>
<text x="134" y="1402">13</text><text x="162" y="1402">M13</text><text x="200" y="1402">1400</text><text x="245" y="1402">2400</text>
<text x="134" y="1425">14</text><text x="162" y="1425">M14</text><text x="200" y="1425">900</text><text x="245" y="1425">2400</text>
<text x="134" y="1448">15</text><text x="162" y="1448">M15</text><text x="200" y="1448">1900</text><text x="245" y="1448">2800</text>
<text x="134" y="1470">16</text><text x="162" y="1470">M16</text><text x="200" y="1470">1000</text><text x="245" y="1470">2100</text>
</g>
<g class="td" text-anchor="start" style="text-anchor:start">
<text x="271" y="1135">700mm单门</text><text x="271" y="1157">900mm单门</text><text x="271" y="1179">1200mm子母门</text><text x="271" y="1201">1200mm双开门</text><text x="271" y="1224">1500mm双开门</text><text x="271" y="1246">1800mm双开门</text><text x="271" y="1269">2000mm双开门</text><text x="271" y="1291">3000mm双开自动玻璃门</text><text x="271" y="1313">3200mm双开自动玻璃门</text><text x="271" y="1335">1200mm单门</text><text x="271" y="1358">990mm单门</text><text x="271" y="1380">890mm单门</text><text x="271" y="1402">电梯门洞</text><text x="271" y="1425">890mm单门</text><text x="271" y="1448">1900mm双开防火玻璃门</text><text x="271" y="1470">990mm单开防火玻璃门</text>
</g>

<!-- drawing title -->
<text x="1043" y="1241" style="font:bold 16px 'Liberation Sans','Noto Sans CJK SC',sans-serif;text-anchor:middle;dominant-baseline:central;fill:#222">2F平面布置图</text>
<rect x="964" y="1254" width="156" height="3" fill="#111"/>
<text x="1094" y="1267" class="td">S=1:120</text>
<text x="1695" y="1267" class="tb" textLength="271" lengthAdjust="spacingAndGlyphs">注：公共通道部分不在本次设计范围内</text>

<!-- title block -->
<path class="l" d="M1024 1292.700H1976V1482.500H1024ZM1024 1369H1976M1499 1331H1976M1499 1292.700V1482.500M1604 1292.700V1369M1528 1369V1482.500M1119 1369V1482.500M1285 1369V1482.500M1024 1397H1285M1024 1426H1285M1024 1455H1499M1823 1397H1976M1823 1426H1976M1823 1455H1976"/>
<g class="tb">
<text x="1510" y="1317" textLength="66">建设单位</text><text x="1510" y="1357" textLength="66">项目名称</text><text x="1636" y="1357" textLength="78">医疗美容</text>
<text x="1033" y="1386">设</text><text x="1084" y="1386">计</text><text x="1033" y="1413">制</text><text x="1084" y="1413">图</text><text x="1033" y="1442" textLength="67">专业负责</text><text x="1033" y="1471" textLength="67">项目负责</text>
<text x="1505" y="1404">图</text><text x="1505" y="1447">名</text><text x="1603" y="1428" textLength="73" lengthAdjust="spacingAndGlyphs">2F平面布置</text>
<text x="1920" y="1441">20</text><text x="1918" y="1470">. 12</text>
</g>
<text x="1385" y="1470" class="td">本图纸版权归本公司所有</text>

<!-- title pill -->
<rect x="68" y="55" width="650" height="112" rx="50" fill="#000"/>
<text x="161" y="147" font-family="'Noto Sans CJK SC',sans-serif" font-weight="700" font-size="92" fill="#fff" stroke="#fff" stroke-width="1.5" textLength="466">平面布置图</text>
</svg>
</body></html>
